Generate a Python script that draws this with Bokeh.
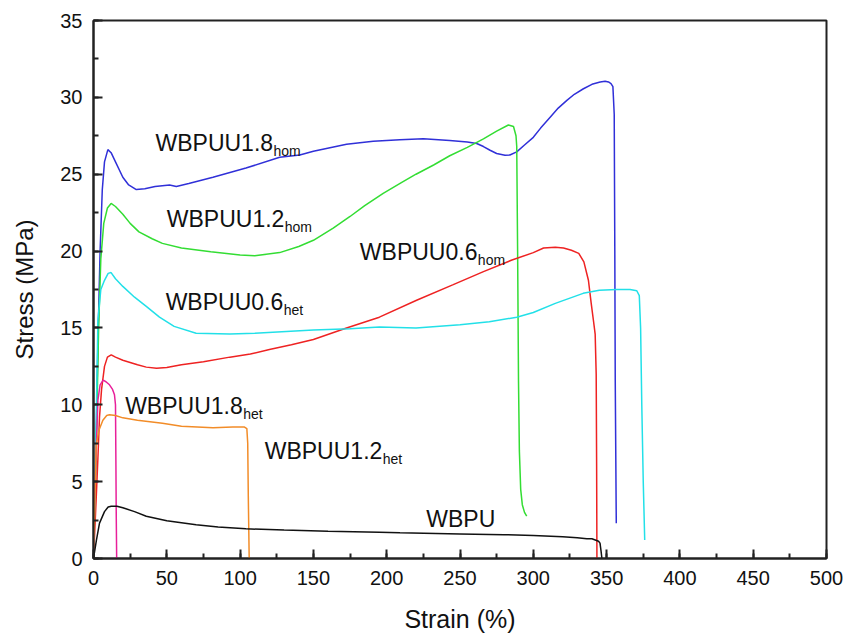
from bokeh.plotting import figure
from bokeh.models import Range1d, SingleIntervalTicker, ColumnDataSource
from bokeh.core.properties import value
from bokeh.embed import file_html
from bokeh.resources import INLINE

FONT = "Liberation Sans"

# ---- data (strain %, stress MPa) ----
wbpuu18_hom_x = [0, 1.5, 3, 4.5, 6, 7.5, 9.8, 12, 15, 20, 24, 29.2, 35, 42, 51.9, 56.5, 65, 81.5, 104, 127, 140.7, 150, 172.6, 190.8, 209, 225, 243, 255, 261.4, 266, 270.5, 275, 280.7, 284, 288.7, 294, 300, 305, 311.5, 317, 322.9, 328, 334.2, 340, 345.6, 349, 351.3, 353, 354.3, 355.2, 355.6, 355.9, 356.6]
wbpuu18_hom_y = [0, 6, 14, 20, 24, 25.8, 26.6, 26.4, 25.8, 24.8, 24.3, 24.0, 24.05, 24.2, 24.3, 24.2, 24.4, 24.8, 25.4, 26.1, 26.25, 26.5, 26.95, 27.14, 27.25, 27.3, 27.2, 27.1, 27.0, 26.8, 26.56, 26.35, 26.23, 26.25, 26.45, 26.9, 27.4, 28.0, 28.7, 29.3, 29.8, 30.2, 30.56, 30.85, 31.0, 31.05, 31.0, 30.9, 30.7, 28.9, 20, 11.6, 2.3]

wbpuu12_hom_x = [0, 2, 3.5, 5, 7, 9.5, 12, 15, 20, 25, 31, 40, 47, 60, 80, 100, 110, 127, 140, 150, 163.5, 175, 185, 197.6, 210, 220, 232, 243, 255, 266, 275, 283, 286.5, 288.2, 288.7, 289.3, 289.9, 290.5, 291.4, 292.5, 294, 295.5]
wbpuu12_hom_y = [0, 8, 15, 19.5, 21.8, 22.8, 23.1, 22.9, 22.4, 21.8, 21.25, 20.8, 20.5, 20.2, 19.95, 19.75, 19.7, 19.9, 20.3, 20.7, 21.5, 22.25, 22.95, 23.75, 24.45, 25.0, 25.6, 26.2, 26.75, 27.3, 27.8, 28.2, 28.1, 27.5, 26.8, 20, 11.6, 7, 4.5, 3.5, 3.0, 2.75]

wbpuu06_hom_x = [0, 1.8, 3, 4.1, 5.5, 7.5, 9.5, 12.1, 15, 20, 25, 30, 36, 43, 50, 60, 75, 93, 107, 120, 135, 150, 172.6, 195, 220.4, 245, 266, 285, 300, 307, 315, 320.6, 326, 331, 334.5, 337.6, 339.5, 341, 342.2, 342.9, 343.2, 343.4]
wbpuu06_hom_y = [0, 3.8, 6.5, 9.2, 11, 12.5, 13.1, 13.25, 13.1, 12.9, 12.75, 12.6, 12.45, 12.38, 12.42, 12.6, 12.8, 13.1, 13.3, 13.6, 13.9, 14.25, 15.0, 15.7, 16.8, 17.8, 18.66, 19.4, 19.9, 20.2, 20.25, 20.2, 20.05, 19.85, 19.3, 18.1, 16.6, 15.5, 14.6, 12, 6, 0]

wbpuu06_het_x = [0, 1.5, 3, 5, 7.5, 10, 12, 15, 20, 28, 36, 45, 55, 70, 93, 110, 150, 175, 195, 220, 250, 270, 288.7, 300, 315, 334, 345, 357, 366, 370.6, 372.3, 373.2, 374, 375, 376]
wbpuu06_het_y = [0, 7, 15.5, 17.5, 18.1, 18.55, 18.6, 18.2, 17.7, 17.0, 16.4, 15.7, 15.1, 14.65, 14.6, 14.65, 14.87, 14.95, 15.06, 15.0, 15.2, 15.4, 15.7, 16.0, 16.6, 17.25, 17.45, 17.5, 17.5, 17.42, 17.1, 15, 10, 5, 1.2]

wbpuu18_het_x = [0, 0.7, 2, 3, 4.5, 6.6, 8.5, 10.9, 13, 14.3, 15, 15.3, 15.5, 15.8]
wbpuu18_het_y = [0, 3.8, 7.5, 10.3, 11.3, 11.6, 11.5, 11.3, 11.0, 10.65, 10.0, 6, 3, 0]

wbpuu12_het_x = [0, 1, 1.8, 3.5, 6.4, 9, 10.9, 15, 20, 30, 47, 60, 81.5, 95, 103, 104.6, 105.2, 105.6, 106.2]
wbpuu12_het_y = [0, 4, 7.3, 8.3, 9.0, 9.3, 9.35, 9.3, 9.15, 9.0, 8.8, 8.6, 8.5, 8.55, 8.55, 8.45, 7.5, 4, 0]

wbpu_x = [0, 2, 4.1, 7.5, 10, 12.1, 16, 20, 28, 36, 50, 70, 85, 104, 130, 160, 195, 209, 250, 280, 300, 320, 330, 336.5, 340, 344.5, 345.5, 346.2, 346.8]
wbpu_y = [0, 1.2, 2.3, 3.05, 3.35, 3.4, 3.4, 3.3, 3.05, 2.75, 2.45, 2.2, 2.05, 1.93, 1.85, 1.78, 1.71, 1.67, 1.6, 1.55, 1.5, 1.42, 1.35, 1.28, 1.28, 1.12, 1.0, 0.5, 0]

series_x = [wbpuu18_hom_x, wbpuu12_hom_x, wbpuu06_hom_x, wbpuu06_het_x, wbpuu18_het_x, wbpuu12_het_x, wbpu_x]
series_y = [wbpuu18_hom_y, wbpuu12_hom_y, wbpuu06_hom_y, wbpuu06_het_y, wbpuu18_het_y, wbpuu12_het_y, wbpu_y]
series_colors = ["#3030d8", "#33dd33", "#ee2222", "#22e0e8", "#e8209a", "#f28c28", "#111111"]

# labels: main text, subscript, anchor (strain, stress)
label_main = ["WBPUU1.8", "WBPUU1.2", "WBPUU0.6", "WBPUU0.6", "WBPUU1.8", "WBPUU1.2", "WBPU"]
label_sub = ["hom", "hom", "het", "hom", "het", "het", ""]
label_x = [42.3, 50, 49.2, 181.7, 21.6, 116.8, 227]
label_y = [27.0, 22.1, 16.7, 19.95, 9.93, 6.97, 2.58]

x_ticks_interval = 50
y_ticks_interval = 5

p = figure(width=844, height=635, x_range=Range1d(0, 500), y_range=Range1d(0, 35),
           output_backend="svg", toolbar_location=None,
           min_border_left=93, min_border_right=18, min_border_top=20, min_border_bottom=76)
p.background_fill_color = "white"
p.border_fill_color = "white"
p.grid.visible = False
p.outline_line_color = "#222222"
p.outline_line_width = 2
p.outline_line_alpha = 1

for xs, ys, c in zip(series_x, series_y, series_colors):
    p.line(xs, ys, line_color=c, line_width=1.5)

main_src = ColumnDataSource(dict(x=label_x, y=label_y, t=label_main))
p.text(x="x", y="y", text="t", source=main_src, text_font=value(FONT), text_font_size="23px",
       text_color="#111111", text_align="left", text_baseline="alphabetic")
sub_src = ColumnDataSource(dict(x=label_x, y=label_y, t=label_sub))
p.text(x="x", y="y", text="t", source=sub_src, text_font=value(FONT), text_font_size="14px",
       text_color="#111111", text_align="left", text_baseline="alphabetic",
       x_offset=118, y_offset=8)

p.xaxis.ticker = SingleIntervalTicker(interval=x_ticks_interval, num_minor_ticks=2)
p.yaxis.ticker = SingleIntervalTicker(interval=y_ticks_interval, num_minor_ticks=2)
p.xaxis.axis_label = "Strain (%)"
p.yaxis.axis_label = "Stress (MPa)"
for ax in (p.xaxis, p.yaxis):
    ax.axis_line_width = 2
    ax.axis_line_color = "#222222"
    ax.major_tick_in = 9
    ax.major_tick_out = 0
    ax.minor_tick_in = 5
    ax.minor_tick_out = 0
    ax.major_tick_line_width = 2
    ax.minor_tick_line_width = 2
    ax.major_tick_line_color = "#222222"
    ax.minor_tick_line_color = "#222222"
    ax.major_label_text_font = FONT
    ax.major_label_text_font_size = "20px"
    ax.major_label_text_color = "#111111"
    ax.axis_label_text_font = FONT
    ax.axis_label_text_font_style = "normal"
    ax.axis_label_text_color = "#111111"
p.xaxis.axis_label_text_font_size = "25px"
p.yaxis.axis_label_text_font_size = "24px"
p.xaxis.major_label_standoff = 12
p.yaxis.major_label_standoff = 11
p.xaxis.axis_label_standoff = 17
p.yaxis.axis_label_standoff = 19

open("out.html", "w").write(file_html(p, INLINE))
